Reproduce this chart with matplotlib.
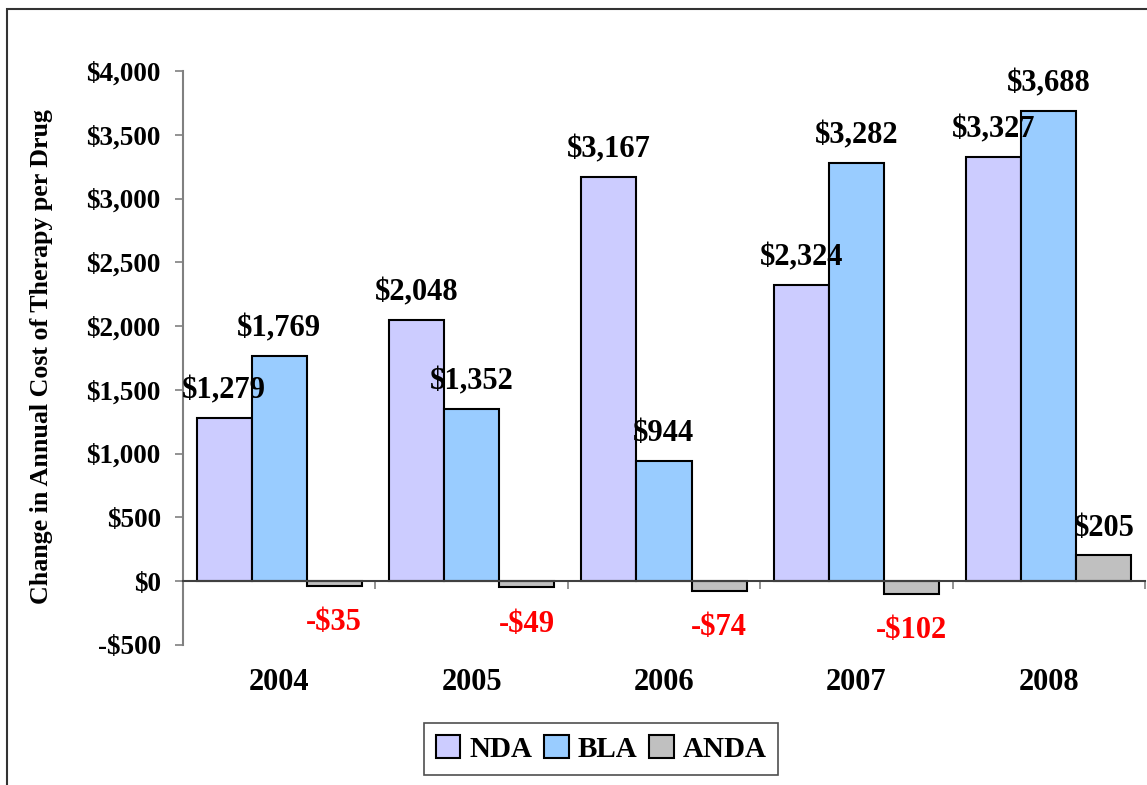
import matplotlib
matplotlib.use("Agg")
import matplotlib.pyplot as plt
import matplotlib.transforms as mtransforms
from matplotlib.patches import Rectangle
import numpy as np

years = ["2004", "2005", "2006", "2007", "2008"]
nda = [1279, 2048, 3167, 2324, 3327]
bla = [1769, 1352, 944, 3282, 3688]
anda = [-35, -49, -74, -102, 205]
series_names = ["NDA", "BLA", "ANDA"]
colors = ["#CCCCFF", "#99CCFF", "#C0C0C0"]
yticks = [-500, 0, 500, 1000, 1500, 2000, 2500, 3000, 3500, 4000]

plt.rcParams['font.family'] = ['Liberation Serif', 'DejaVu Serif']
plt.rcParams['font.weight'] = 'bold'

fig = plt.figure(figsize=(11.47, 7.85), dpi=100)
# outer frame
fig.patches.append(Rectangle((7/1147, -0.1), 1.2, 1 - 9/785 + 0.1, transform=fig.transFigure,
                             fill=False, edgecolor='#333333', linewidth=1.5))

ax = fig.add_axes([183/1147, 1 - 645/785, (1145 - 183)/1147, (645 - 71)/785])
x = np.arange(len(years))
w = 0.286
series = [nda, bla, anda]
for k, (vals, col, name) in enumerate(zip(series, colors, series_names)):
    pos = x + (k - 1) * w
    ax.bar(pos, vals, width=w, color=col, edgecolor='black', linewidth=1.5, label=name, zorder=3)
    for px, v in zip(pos, vals):
        if v >= 0:
            ax.annotate(f"${v:,}", (px, v), xytext=(0, 9), textcoords='offset points',
                        ha='center', va='bottom', fontsize=22, fontweight='bold', color='black', zorder=5)
        else:
            ax.annotate(f"-${abs(v):,}", (px, v), xytext=(0, -16), textcoords='offset points',
                        ha='center', va='top', fontsize=22, fontweight='bold', color='red', zorder=5)

ax.set_xlim(-0.5, len(years) - 0.5)
ax.set_ylim(-500, 4000)
ax.set_yticks(yticks)
ax.set_yticklabels([f"-${abs(t):,}" if t < 0 else f"${t:,}" for t in yticks],
                   fontsize=19.5, fontweight='bold')
ax.tick_params(axis='y', length=6, width=1.2, color='#808080', pad=10)
ax.set_xticks(np.arange(len(years) + 1) - 0.5)
ax.set_xticklabels([])
ax.tick_params(axis='x', length=6, width=1.2, color='#808080', direction='out')
for s in ['top', 'right']:
    ax.spines[s].set_visible(False)
ax.spines['left'].set_color('#808080')
ax.spines['left'].set_linewidth(1.5)
ax.spines['bottom'].set_position(('data', 0))
ax.spines['bottom'].set_color('#404040')
ax.spines['bottom'].set_linewidth(1.5)
ax.spines['bottom'].set_zorder(4)

trans = mtransforms.blended_transform_factory(ax.transData, ax.transAxes)
for xi, yr in zip(x, years):
    ax.text(xi, -0.066, yr, transform=trans, ha='center', va='center', fontsize=22, fontweight='bold')

fig.text(42/1147, 1 - 357/785, "Change in Annual Cost of Therapy per Drug", rotation=90,
         ha='center', va='center', fontsize=18.7, fontweight='bold')

leg = fig.legend(loc='center', bbox_to_anchor=(601/1147, 1 - 749/785), ncol=3, frameon=True,
                 fancybox=False, edgecolor='#222222', prop={'size': 21, 'weight': 'bold'},
                 handlelength=0.85, handleheight=0.85, handletextpad=0.3, columnspacing=0.4,
                 borderpad=0.4, borderaxespad=0)
leg.get_frame().set_linewidth(1.2)

fig.savefig("out.png", dpi=100)
